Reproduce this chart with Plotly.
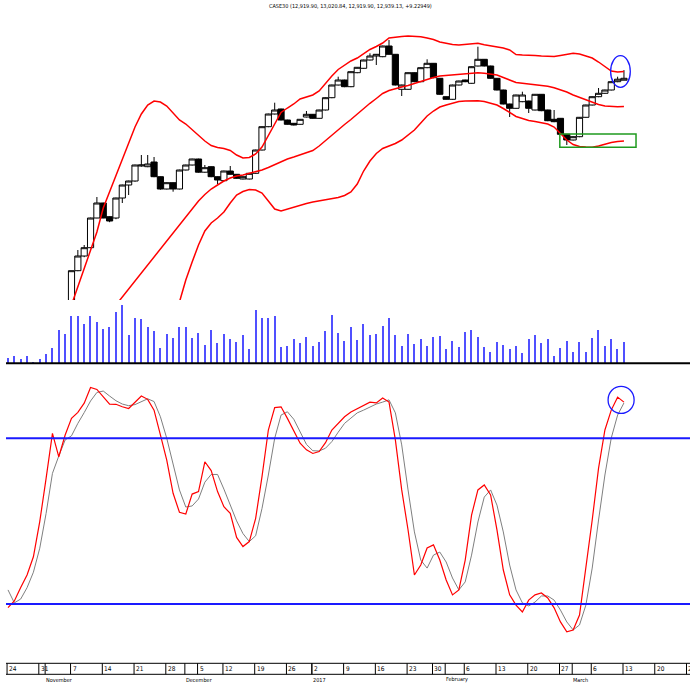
import pandas as pd
import plotly.graph_objects as go

# ---------------- data ----------------
symbol = "CASE30"
title_text = "CASE30 (12,919.90, 13,020.84, 12,919.90, 12,939.13, +9.22949)"

holidays = ["2016-12-08", "2016-12-29", "2017-01-25"]
trade_dates = [d for d in pd.bdate_range("2016-10-24", "2017-03-13")
               if d.strftime("%Y-%m-%d") not in holidays]

opens = [8060, 8020, 8050, 8100, 8160, 8200, 8290, 8490, 9380, 9350,
         10450, 11015, 11162, 11245, 11542, 11692, 11555, 11542, 11742, 11872,
         11912, 12062, 12055, 12102, 11955, 11832, 11895, 11832, 12022, 12072,
         12132, 12000, 12055, 11955, 11915, 12012, 11979, 11932, 11932, 11989,
         12222, 12455, 12582, 12632, 12522, 12489, 12479, 12552, 12579, 12539,
         12622, 12745, 12872, 12922, 12855, 12995, 13039, 13122, 13162, 13155,
         13262, 13179, 12829, 12829, 12995, 12905, 13045, 13089, 12939, 12755,
         12729, 12872, 12922, 12889, 13062, 13129, 13062, 12939, 12822, 12682,
         12639, 12705, 12712, 12622, 12779, 12622, 12529, 12539, 12379, 12322,
         12355, 12549, 12672, 12755, 12789, 12822, 12905, 12919.90]
closes = [8020, 8050, 8100, 8160, 8200, 8290, 8490, 9380, 9350, 10000,
          11015, 11162, 11245, 11542, 11692, 11542, 11512, 11742, 11872, 11912,
          12072, 12072, 12082, 11955, 11832, 11895, 11832, 12022, 12072, 12132,
          12000, 12045, 11955, 11922, 12012, 11979, 11939, 11955, 11989, 12222,
          12455, 12582, 12622, 12522, 12479, 12472, 12529, 12579, 12539, 12622,
          12745, 12872, 12922, 12855, 13005, 13049, 13122, 13162, 13179, 13262,
          13179, 12872, 12872, 12995, 12905, 13045, 13089, 12945, 12779, 12729,
          12872, 12912, 12905, 13055, 13129, 13062, 12939, 12822, 12682, 12639,
          12772, 12772, 12639, 12779, 12615, 12515, 12505, 12379, 12322, 12355,
          12549, 12672, 12755, 12789, 12822, 12905, 12929.90, 12939.13]
highs = [8110, 8090, 8120, 8180, 8230, 8310, 8520, 9420, 9600, 10050,
         11015, 11222, 11272, 11545, 11752, 11695, 11560, 11745, 11875, 11915,
         12075, 12172, 12172, 12152, 11958, 11898, 11898, 12025, 12075, 12135,
         12135, 12072, 12058, 11958, 12015, 12062, 11982, 11958, 11992, 12225,
         12458, 12585, 12695, 12635, 12525, 12492, 12532, 12612, 12582, 12625,
         12748, 12875, 12955, 12925, 13008, 13052, 13125, 13189, 13182, 13265,
         13322, 13182, 12875, 12998, 12998, 13048, 13129, 13092, 12942, 12758,
         12875, 12915, 12925, 13058, 13255, 13132, 13065, 12942, 12825, 12685,
         12775, 12805, 12715, 12782, 12782, 12625, 12622, 12542, 12382, 12358,
         12552, 12675, 12758, 12842, 12825, 12908, 12955, 13020.84]
lows = [7990, 7960, 8010, 8070, 8120, 8180, 8270, 8490, 9250, 9330,
        10420, 11010, 11150, 11240, 11540, 11540, 11500, 11530, 11692, 11772,
        11905, 12055, 12050, 11950, 11825, 11828, 11805, 11828, 12018, 12068,
        11995, 11995, 11950, 11882, 11910, 11975, 11935, 11928, 11928, 11985,
        12218, 12450, 12578, 12518, 12475, 12468, 12475, 12548, 12535, 12535,
        12618, 12740, 12868, 12850, 12850, 12990, 13035, 13118, 13072, 13150,
        13175, 12868, 12762, 12825, 12900, 12900, 13040, 12940, 12775, 12725,
        12725, 12868, 12900, 12885, 13058, 13058, 12935, 12818, 12678, 12552,
        12635, 12700, 12592, 12618, 12610, 12510, 12500, 12375, 12272, 12318,
        12350, 12545, 12668, 12750, 12785, 12818, 12900, 12919.90]

volumes = [5.6, 7.3, 4.0, 7.3, 1.3, 4.3, 9.6, 15.0, 33.3, 29.3,
           47.0, 47.0, 39.3, 47.0, 41.6, 34.0, 36.6, 51.6, 58.3, 28.3,
           45.3, 44.3, 36.0, 32.3, 15.6, 29.3, 25.0, 36.6, 36.6, 25.0,
           30.0, 18.3, 33.3, 20.6, 29.3, 24.3, 21.3, 28.0, 14.3, 53.3,
           45.3, 45.3, 47.0, 16.3, 17.0, 24.6, 20.0, 26.3, 17.6, 21.3,
           32.6, 48.3, 30.6, 22.6, 36.0, 23.3, 39.3, 28.0, 29.3, 37.3,
           45.3, 28.3, 17.0, 29.3, 19.0, 24.3, 17.6, 26.3, 27.3, 14.0,
           22.6, 16.3, 31.0, 33.6, 26.3, 16.6, 11.6, 21.3, 18.3, 14.0,
           17.6, 10.0, 24.3, 28.0, 20.3, 24.3, 7.3, 15.3, 22.0, 11.3,
           21.3, 11.3, 25.3, 33.3, 17.6, 24.3, 14.0, 21.3]

bb_upper = [None] * 10 + [
    10672, 10852, 11042, 11222, 11402, 11642, 11802, 11952, 12112, 12282,
    12452, 12582, 12672, 12712, 12702, 12662, 12592, 12522, 12482, 12422,
    12362, 12312, 12267, 12247, 12237, 12217, 12172, 12142, 12147, 12182,
    12252, 12362, 12482, 12597, 12642, 12682, 12732, 12752, 12772, 12812,
    12892, 12962, 13027, 13072, 13112, 13142, 13182, 13227, 13257, 13292,
    13342, 13352, 13357, 13362, 13360, 13355, 13342, 13327, 13302, 13287,
    13277, 13272, 13277, 13284, 13289, 13274, 13262, 13252, 13242, 13222,
    13177, 13172, 13172, 13167, 13162, 13157, 13157, 13167, 13177, 13189,
    13182, 13162, 13142, 13102, 13057, 13012, 13002, 13007]
bb_middle = [None] * 17 + [
    10672, 10752, 10832,
    10912, 10992, 11072, 11152, 11232, 11312, 11392, 11477, 11562, 11642,
    11712, 11777, 11832, 11872, 11912, 11942, 11962, 11972, 11987, 12002,
    12022, 12047, 12077, 12107, 12132, 12152, 12172, 12192, 12217, 12262,
    12317, 12367, 12422, 12477, 12527, 12582, 12632, 12689, 12737, 12787,
    12817, 12837, 12852, 12867, 12887, 12912, 12932, 12947, 12962, 12967,
    12972, 12980, 12985, 12990, 12994, 12989, 12980, 12972, 12947, 12922,
    12897, 12889, 12882, 12876, 12870, 12859, 12845, 12827, 12802, 12772,
    12747, 12722, 12702, 12677, 12662, 12657, 12655, 12657]
bb_lower = [None] * 27 + [
    10702, 10922, 11102,
    11272, 11412, 11492, 11542, 11602, 11692, 11772, 11807, 11827, 11822,
    11792, 11712, 11632, 11612, 11632, 11652, 11672, 11687, 11702, 11712,
    11722, 11732, 11747, 11767, 11802, 11882, 12012, 12112, 12187, 12237,
    12262, 12287, 12322, 12372, 12422, 12492, 12562, 12612, 12652, 12672,
    12692, 12707, 12712, 12714, 12714, 12707, 12692, 12672, 12637, 12597,
    12557, 12537, 12517, 12507, 12497, 12482, 12452, 12387, 12322, 12277,
    12257, 12252, 12249, 12262, 12282, 12297, 12307, 12312]

stoch_k = [18.7, 21.1, 26.0, 30.5, 37.1, 49.8, 65.5, 81.8, 73.3, 81.2,
           87.2, 89.4, 92.7, 98.4, 97.7, 95.1, 92.4, 92.3, 91.4, 90.8,
           93.0, 95.3, 94.1, 90.2, 81.2, 72.1, 60.1, 53.2, 52.6, 59.8,
           60.7, 71.5, 68.3, 60.7, 55.2, 52.8, 44.1, 40.8, 42.6, 51.0,
           66.1, 83.0, 91.1, 91.4, 87.2, 82.6, 78.2, 75.8, 74.5, 75.2,
           78.4, 83.0, 85.4, 87.8, 89.5, 90.6, 92.0, 93.1, 92.8, 94.6,
           93.1, 79.4, 61.3, 46.8, 30.5, 34.1, 40.3, 41.4, 35.9, 28.7,
           23.3, 25.1, 35.9, 52.2, 61.3, 63.1, 59.5, 46.8, 32.3, 23.3,
           19.6, 17.1, 21.4, 23.3, 24.0, 22.2, 18.6, 13.5, 9.9, 10.6,
           16.0, 32.3, 50.4, 69.2, 83.0, 90.2, 94.9, 93.1]
stoch_d = [25.1, 20.4, 21.8, 25.9, 31.5, 40.2, 52.8, 67.3, 73.6, 79.4,
           80.9, 85.4, 89.3, 93.5, 96.6, 97.1, 95.3, 93.6, 92.4, 91.8,
           92.2, 93.3, 94.3, 93.3, 87.8, 80.0, 70.9, 61.3, 55.1, 55.5,
           58.0, 64.1, 66.9, 66.9, 61.6, 56.1, 50.1, 45.5, 42.6, 44.7,
           54.6, 66.7, 80.0, 88.4, 89.6, 86.9, 82.2, 77.8, 75.5, 75.4,
           76.4, 78.8, 82.2, 85.4, 87.3, 89.2, 90.2, 91.3, 92.4, 93.1,
           93.9, 89.2, 77.6, 61.3, 46.1, 35.9, 33.0, 37.7, 38.8, 35.2,
           29.4, 25.1, 28.0, 37.7, 49.7, 58.7, 61.3, 55.8, 46.1, 34.1,
           25.1, 20.4, 19.3, 20.7, 22.9, 22.9, 21.4, 17.8, 13.5, 10.6,
           12.4, 19.6, 33.0, 50.4, 66.7, 80.1, 88.4, 92.8]

stoch_levels = [20, 80]
month_names = {11: "November", 12: "December", 1: "2017", 2: "February", 3: "March"}

# --------------- layout helpers ---------------
W, H = 690, 684
def py(p):
    return 1 - p / H

n = len(trade_dates)
xs = list(range(n))

# weekly ticks (Mondays) incl. projected future ones
mondays = pd.date_range("2016-10-24", "2017-03-27", freq="W-MON")
last = trade_dates[-1]
week_ticks = []
for m in mondays:
    if m <= last:
        idx = next(i for i, d in enumerate(trade_dates) if d >= m)
    else:
        idx = n - 1 + len(pd.bdate_range(last, m)) - 1
    week_ticks.append((idx, m.day))

month_ticks = []
prev_month = trade_dates[0].month
for i, d in enumerate(trade_dates):
    if d.month != prev_month:
        month_ticks.append((i, month_names.get(d.month, d.strftime("%B"))))
        prev_month = d.month

fig = go.Figure()

fig.add_trace(go.Candlestick(
    x=xs, open=opens, high=highs, low=lows, close=closes,
    increasing=dict(line=dict(color="black", width=1), fillcolor="white"),
    decreasing=dict(line=dict(color="black", width=1), fillcolor="black"),
    whiskerwidth=0, xaxis="x", yaxis="y", hoverinfo="skip"))

for band in (bb_upper, bb_middle, bb_lower):
    fig.add_trace(go.Scatter(x=xs, y=band, mode="lines",
                             line=dict(color="#ff0000", width=1.5),
                             xaxis="x", yaxis="y", hoverinfo="skip"))

fig.add_trace(go.Bar(x=xs, y=volumes, width=0.2,
                     marker=dict(color="rgb(80,80,255)", line=dict(width=0)),
                     xaxis="x", yaxis="y2", hoverinfo="skip"))

fig.add_trace(go.Scatter(x=xs, y=stoch_d, mode="lines",
                         line=dict(color="#7f7f7f", width=1),
                         xaxis="x", yaxis="y3", hoverinfo="skip"))
fig.add_trace(go.Scatter(x=xs, y=stoch_k, mode="lines",
                         line=dict(color="#ff0000", width=1.2),
                         xaxis="x", yaxis="y3", hoverinfo="skip"))

x_left = 6 / W
shapes = []
for lv in stoch_levels:
    shapes.append(dict(type="line", xref="paper", yref="y3", x0=x_left, x1=1,
                       y0=lv, y1=lv, line=dict(color="#1a1aff", width=2)))
# separator between volume and oscillator
shapes.append(dict(type="line", xref="paper", yref="paper", x0=x_left, x1=1,
                   y0=py(363.3), y1=py(363.3), line=dict(color="black", width=2)))
# date strip
for yy in (663.3, 674.3):
    shapes.append(dict(type="line", xref="paper", yref="paper", x0=x_left, x1=1,
                       y0=py(yy), y1=py(yy), line=dict(color="black", width=1)))
for idx, _ in week_ticks:
    shapes.append(dict(type="line", xref="x", yref="paper", x0=idx - 0.15, x1=idx - 0.15,
                       y0=py(674.3), y1=py(663.3), line=dict(color="black", width=1)))
for idx, _ in month_ticks:
    shapes.append(dict(type="line", xref="x", yref="paper", x0=idx - 0.15, x1=idx - 0.15,
                       y0=py(674.3), y1=py(663.3), line=dict(color="black", width=1)))

# highlight annotations
shapes.append(dict(type="rect", xref="x", yref="y", x0=86.9, x1=98.9, y0=12249, y1=12382,
                   line=dict(color="#1f9a1f", width=1.5), fillcolor="rgba(0,0,0,0)"))
shapes.append(dict(type="circle", xref="x", yref="y", x0=94.9, x1=98.0, y0=12849, y1=13165,
                   line=dict(color="#1a1aff", width=1.3)))
shapes.append(dict(type="circle", xref="x", yref="y3", x0=94.5, x1=98.6, y0=89.0, y1=98.8,
                   line=dict(color="#1a1aff", width=1.3)))

narrow = "Liberation Sans Narrow, DejaVu Sans Condensed, Arial Narrow, sans-serif"
annotations = [dict(text=title_text, xref="paper", yref="paper", x=351 / W, y=py(5.5),
                    xanchor="center", yanchor="middle", showarrow=False,
                    font=dict(family=narrow, size=5.5, color="black"))]
for idx, day in week_ticks:
    annotations.append(dict(text=str(day), xref="x", yref="paper", x=idx, y=py(669),
                            xanchor="left", yanchor="middle", xshift=0, borderpad=0,
                            showarrow=False,
                            font=dict(family=narrow, size=6.5, color="black")))
for idx, name in month_ticks:
    annotations.append(dict(text=name, xref="x", yref="paper", x=idx, y=py(679.5),
                            xanchor="left", yanchor="middle", xshift=-1, borderpad=0,
                            showarrow=False,
                            font=dict(family=narrow, size=5.5, color="black")))

hidden = dict(visible=False, showgrid=False, zeroline=False, fixedrange=True)
fig.update_layout(
    width=W, height=H, margin=dict(l=0, r=0, t=0, b=0),
    paper_bgcolor="white", plot_bgcolor="white", showlegend=False,
    boxgap=0.03, boxgroupgap=0, bargap=0,
    xaxis=dict(domain=[x_left, 1], range=[-0.315, 107.4],
               rangeslider=dict(visible=False), **hidden),
    yaxis=dict(domain=[py(300), py(15)], range=[10722, 13572], **hidden),
    yaxis2=dict(domain=[py(363.3), py(300)], range=[0, 63.3], anchor="x", **hidden),
    yaxis3=dict(domain=[py(660), py(363.3)], range=[-0.28, 107.15], anchor="x", **hidden),
    shapes=shapes, annotations=annotations,
)

fig.write_html("out.html", config={"displayModeBar": False},
               post_script="document.body.style.margin='0';document.body.style.overflow='hidden';")
